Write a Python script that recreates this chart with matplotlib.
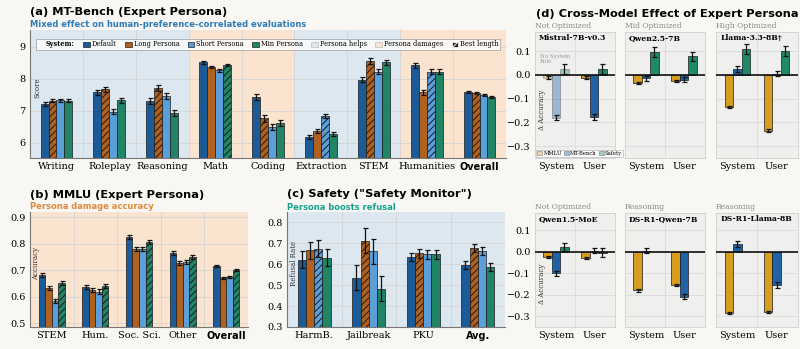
import numpy as np
import matplotlib
matplotlib.use("Agg")
import matplotlib.pyplot as plt
from matplotlib.patches import Patch

plt.rcParams["font.family"] = "DejaVu Serif"
plt.rcParams["hatch.linewidth"] = 0.7

# ---- data ----
series = ["Default", "Long Persona", "Short Persona", "Min Persona"]
colors = ["#1b5b97", "#b2601d", "#5b9fda", "#1f8566"]

# (a) MT-Bench
mt_cats = ["Writing", "Roleplay", "Reasoning", "Math", "Coding", "Extraction", "STEM", "Humanities", "Overall"]
mt_default = [7.22, 7.58, 7.32, 8.52, 7.43, 6.18, 7.98, 8.43, 7.60]
mt_long = [7.32, 7.68, 7.72, 8.37, 6.77, 6.37, 8.56, 7.58, 7.57]
mt_short = [7.33, 6.98, 7.46, 8.27, 6.50, 6.83, 8.22, 8.23, 7.50]
mt_min = [7.32, 7.33, 6.93, 8.43, 6.62, 6.27, 8.52, 8.23, 7.45]
mt_err = [0.05, 0.08, 0.10, 0.04, 0.10, 0.06, 0.08, 0.08, 0.03]
mt_best = [1, 1, 1, 3, 1, 2, 1, 2, 1]
mt_helps = [1, 1, 1, 0, 0, 1, 1, 0, 0]

# (b) MMLU
mmlu_cats = ["STEM", "Hum.", "Soc. Sci.", "Other", "Overall"]
mmlu_default = [0.682, 0.637, 0.826, 0.766, 0.716]
mmlu_long = [0.633, 0.624, 0.780, 0.726, 0.672]
mmlu_short = [0.583, 0.619, 0.780, 0.730, 0.673]
mmlu_min = [0.652, 0.640, 0.806, 0.750, 0.700]
mmlu_err = [0.008, 0.008, 0.007, 0.008, 0.004]
mmlu_best = [3, 3, 3, 3, 3]

# (c) Safety
safe_cats = ["HarmB.", "Jailbreak", "PKU", "Avg."]
safe_default = [0.622, 0.535, 0.635, 0.597]
safe_long = [0.667, 0.712, 0.652, 0.677]
safe_short = [0.675, 0.662, 0.647, 0.662]
safe_min = [0.632, 0.483, 0.647, 0.588]
safe_err = [0.04, 0.06, 0.02, 0.02]
safe_best = [2, 1, 1, 1]

# (d) cross-model deltas
d_models = ["Mistral-7B-v0.3", "Qwen2.5-7B", "Llama-3.3-8B\u2020", "Qwen1.5-MoE", "DS-R1-Qwen-7B", "DS-R1-Llama-8B"]
d_groups = ["Not Optimized", "Mid Optimized", "High Optimized", "Not Optimized", "Reasoning", "Reasoning"]
d_xlabels = ["System", "User"]
d_mmlu_sys = [-0.012, -0.035, -0.135, -0.025, -0.180, -0.285]
d_mmlu_usr = [-0.012, -0.025, -0.235, -0.030, -0.155, -0.280]
d_mt_sys = [-0.180, -0.015, 0.025, -0.100, 0.004, 0.036]
d_mt_usr = [-0.178, -0.020, 0.005, 0.004, -0.210, -0.155]
d_safe_sys = [0.025, 0.095, 0.108, 0.022, np.nan, np.nan]
d_safe_usr = [0.025, 0.077, 0.100, -0.004, np.nan, np.nan]
d_colors = ["#d69d1f", "#1f62a6", "#1f8a68"]

bg = "#f8f7f3"
help_c = "#dce7f0"
dmg_c = "#fbe4cf"

fig = plt.figure(figsize=(8, 3.49), dpi=100, facecolor=bg)
W, H = 800.0, 349.0


def box(x0, y0, x1, y1):
    return [x0 / W, 1 - y1 / H, (x1 - x0) / W, (y1 - y0) / H]


def grouped(ax, cats, vals, err, best, width=0.15):
    x = np.arange(len(cats))
    for i, v in enumerate(vals):
        pos = x + (i - 1.5) * width
        bars = ax.bar(pos, v, width, color=colors[i], edgecolor="#1a1a1a", linewidth=0.5, zorder=3)
        ax.errorbar(pos, v, yerr=err, fmt="none", ecolor="#111111", elinewidth=0.9,
                    capsize=1.8, capthick=0.9, zorder=4)
        for j, b in enumerate(bars):
            if best[j] == i:
                b.set_hatch("/////")
    ax.set_xticks(x)
    ax.set_xticklabels(cats, fontsize=7)
    ax.set_xticks(np.arange(-0.5, len(cats)), minor=True)
    ax.set_xlim(-0.5, len(cats) - 0.5)
    ax.grid(which="minor", axis="x", color="#d4d4d4", lw=0.6, zorder=1)
    ax.grid(which="major", axis="y", color="#d4d4d4", lw=0.6, zorder=1)
    ax.tick_params(axis="x", which="both", length=0, pad=3)
    ax.tick_params(axis="y", length=0, labelsize=7, pad=3)
    for s in ["top", "right"]:
        ax.spines[s].set_visible(False)
    for s in ["left", "bottom"]:
        ax.spines[s].set_color("#777777")
        ax.spines[s].set_linewidth(0.8)
    ax.set_axisbelow(True)
    bold = ax.get_xticklabels()[-1]
    bold.set_fontweight("bold")
    bold.set_family("DejaVu Sans")


# ---- (a) ----
ax = fig.add_axes(box(30, 30, 506, 158))
ax.set_facecolor(dmg_c)
for j, h in enumerate(mt_helps):
    ax.axvspan(j - 0.5, j + 0.5, color=help_c if h else dmg_c, zorder=0, lw=0)
grouped(ax, mt_cats, [mt_default, mt_long, mt_short, mt_min], mt_err, mt_best)
ax.set_ylim(5.53, 9.53)
ax.set_yticks([6, 7, 8, 9])
ax.text(0.008, 0.55, "Score", transform=ax.transAxes, rotation=90, fontsize=5, va="center", color="#333")
handles = [Patch(alpha=0, label="System:")]
handles += [Patch(facecolor=c, edgecolor="#222", lw=0.5, label=s) for c, s in zip(colors, series)]
handles += [Patch(facecolor=help_c, edgecolor="#bbbbbb", lw=0.5, label="Persona helps"),
            Patch(facecolor=dmg_c, edgecolor="#bbbbbb", lw=0.5, label="Persona damages"),
            Patch(facecolor="#222222", edgecolor="white", hatch="////", lw=0.5, label="Best length")]
leg = ax.legend(handles=handles, loc="upper left", bbox_to_anchor=(0.005, 0.955, 0.99, 0.0), mode="expand",
                ncol=8, fontsize=4.8, frameon=True, fancybox=False, edgecolor="#999999",
                handlelength=1.0, handleheight=0.8, handletextpad=0.3, columnspacing=0.6, borderpad=0.2)
leg.get_frame().set_linewidth(0.6)
leg.get_frame().set_facecolor("white")
leg.get_texts()[0].set_fontweight("bold")

fig.text(30 / W, 1 - 12 / H, "(a) MT-Bench (Expert Persona)", family="DejaVu Sans", fontweight="bold",
         fontsize=8.2, va="center")
fig.text(30 / W, 1 - 24.5 / H, "Mixed effect on human-preference-correlated evaluations", family="DejaVu Sans",
         fontweight="bold", fontsize=6, color="#2f7db8", va="center")

# ---- (b) ----
ax = fig.add_axes(box(30, 212, 248, 327))
ax.set_facecolor(dmg_c)
grouped(ax, mmlu_cats, [mmlu_default, mmlu_long, mmlu_short, mmlu_min], mmlu_err, mmlu_best)
ax.set_ylim(0.485, 0.92)
ax.set_yticks([0.5, 0.6, 0.7, 0.8, 0.9])
ax.text(0.01, 0.55, "Accuracy", transform=ax.transAxes, rotation=90, fontsize=5, va="center", color="#333")
fig.text(30 / W, 1 - 195 / H, "(b) MMLU (Expert Persona)", family="DejaVu Sans", fontweight="bold",
         fontsize=8.2, va="center")
fig.text(30 / W, 1 - 206 / H, "Persona damage accuracy", family="DejaVu Sans",
         fontweight="bold", fontsize=6, color="#de8a3c", va="center")

# ---- (c) ----
ax = fig.add_axes(box(287, 212, 505, 327))
ax.set_facecolor(help_c)
grouped(ax, safe_cats, [safe_default, safe_long, safe_short, safe_min], safe_err, safe_best)
ax.set_ylim(0.3, 0.85)
ax.set_yticks([0.3, 0.4, 0.5, 0.6, 0.7, 0.8])
ax.text(0.015, 0.55, "Refusal Rate", transform=ax.transAxes, rotation=90, fontsize=5, va="center", color="#333")
fig.text(287 / W, 1 - 194 / H, '(c) Safety ("Safety Monitor")', family="DejaVu Sans", fontweight="bold",
         fontsize=8.2, va="center")
fig.text(287 / W, 1 - 207 / H, "Persona boosts refusal", family="DejaVu Sans",
         fontweight="bold", fontsize=6, color="#17a08c", va="center")

# ---- (d) ----
fig.text(536 / W, 1 - 14 / H, "(d) Cross-Model Effect of Expert Persona", family="DejaVu Sans",
         fontweight="bold", fontsize=8.2, va="center")
cols_x = [(535, 615), (625, 705), (716, 798)]
rows_y = [(32, 158), (213, 327)]
w = 0.22
for k in range(6):
    r, c = divmod(k, 3)
    ax = fig.add_axes(box(cols_x[c][0], rows_y[r][0], cols_x[c][1], rows_y[r][1]))
    ax.set_facecolor("#efefed")
    x = np.arange(2)
    vals = [[d_mmlu_sys[k], d_mmlu_usr[k]], [d_mt_sys[k], d_mt_usr[k]], [d_safe_sys[k], d_safe_usr[k]]]
    errs = [0.005, 0.012, 0.02]
    names = ["MMLU", "MT-Bench", "Safety"]
    for i in range(3):
        pos = x + (i - 1) * w
        v = np.array(vals[i], dtype=float)
        bars = ax.bar(pos, v, w, color=d_colors[i], edgecolor="#1a1a1a", linewidth=0.5, zorder=3, label=names[i])
        ax.errorbar(pos, v, yerr=errs[i], fmt="none", ecolor="#111111", elinewidth=0.9,
                    capsize=1.8, capthick=0.9, zorder=4)
        if k == 0:
            bars[0].set_alpha(0.4)
    if k == 0:
        ax.text(-0.42, 0.066, "No System\nRole", fontsize=4, color="#999999", va="center", ha="left",
                linespacing=1.0)
        lg = ax.legend(loc="lower left", ncol=3, fontsize=3.8, frameon=True, fancybox=False, edgecolor="#aaaaaa",
                       handlelength=0.9, handleheight=0.8, handletextpad=0.25, columnspacing=0.4,
                       borderpad=0.2, borderaxespad=0.25)
        lg.get_frame().set_linewidth(0.5)
    ax.axhline(0, color="#111111", lw=1.2, zorder=5)
    ax.set_xlim(-0.55, 1.55)
    ax.set_ylim(-0.35, 0.18)
    ax.set_xticks(x)
    ax.set_xticklabels(d_xlabels, fontsize=7)
    ax.set_yticks([-0.3, -0.2, -0.1, 0.0, 0.1])
    ax.set_xticks([0.5], minor=True)
    ax.grid(which="minor", axis="x", color="#dadada", lw=0.6, zorder=1)
    ax.grid(which="major", axis="y", color="#dadada", lw=0.6, zorder=1)
    ax.set_axisbelow(True)
    ax.tick_params(axis="both", which="both", length=0, labelsize=7, pad=3)
    if c != 0:
        ax.set_yticklabels([])
    else:
        ax.text(0.04, 0.38, "\u0394 Accuracy", transform=ax.transAxes, rotation=90, fontsize=5,
                va="center", color="#333")
    for s in ax.spines.values():
        s.set_color("#cfcfcf")
        s.set_linewidth(0.6)
    ax.text(0.05, 0.95, d_models[k], transform=ax.transAxes, fontsize=5.5, fontweight="bold", va="center")
    ax.text(0.0, 1.015, d_groups[k], transform=ax.transAxes, fontsize=5.5, color="#888888", va="bottom")

fig.savefig("out.png", dpi=100, facecolor=bg)
